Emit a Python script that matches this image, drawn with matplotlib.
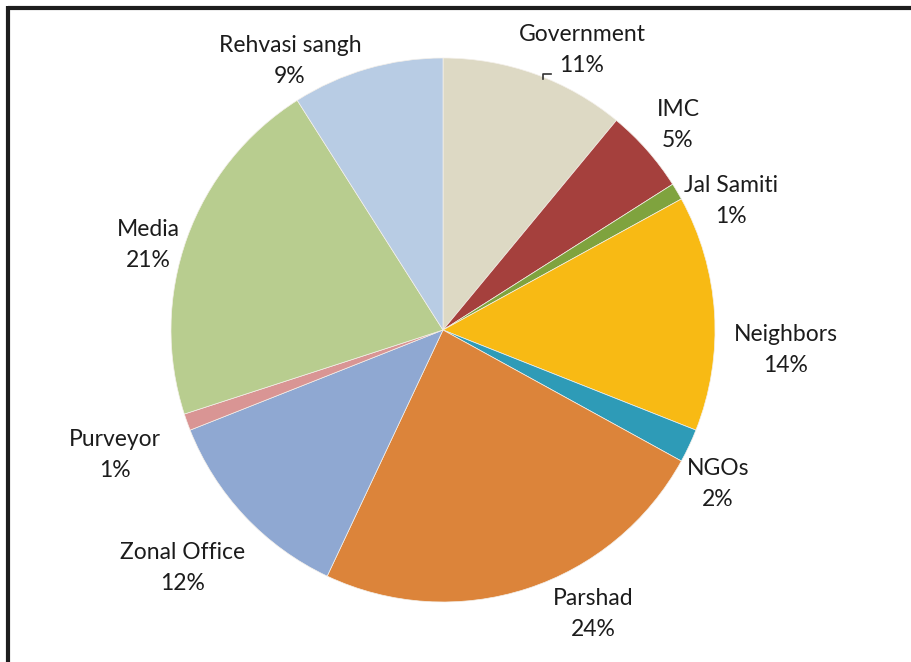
import matplotlib.pyplot as plt

# share of responses by source
sources = ["Government", "IMC", "Jal Samiti", "Neighbors", "NGOs",
           "Parshad", "Zonal Office", "Purveyor", "Media", "Rehvasi sangh"]
shares = [11, 5, 1, 14, 2, 24, 12, 1, 21, 9]
colors = ["#DDD9C4", "#A5403D", "#7FA33E", "#F8BA14", "#2E9BB7",
          "#DC843A", "#8FA8D2", "#D99594", "#B8CD8F", "#B8CCE4"]

# label anchors in pixel space (x from left, y from top)
label_xy = [(582, 50), (678, 125), (731, 201), (786, 350), (718, 484),
            (593, 614), (183, 568), (115, 455), (148, 245), (290, 61)]

W, H = 911, 662
fig = plt.figure(figsize=(W / 100, H / 100), dpi=100)
ax = fig.add_axes([0, 0, 1, 1])

cx, cy, r = 443, H - 330, 272
ax.pie(shares, colors=colors, startangle=90, counterclock=False,
       center=(cx, cy), radius=r, frame=True,
       wedgeprops=dict(edgecolor="#f4f0ea", linewidth=0.5))

ax.set_xlim(0, W)
ax.set_ylim(0, H)
ax.axis("off")

for name, val, (lx, ly) in zip(sources, shares, label_xy):
    ax.text(lx, H - ly, f"{name}\n{val}%", ha="center", va="center",
            fontsize=16.5, family="Lato", color="#1c1c1c", linespacing=1.55)

# small leader tick near the Government label
ax.plot([551, 543, 543], [H - 74, H - 74, H - 79], color="#333333", lw=1.2)

# frame lines along the top and left
ax.plot([7.5, W], [H - 7.5, H - 7.5], color="#1e1e1e", lw=3, clip_on=False,
        solid_capstyle="butt")
ax.plot([7.5, 7.5], [H - 6, 0], color="#1e1e1e", lw=3, clip_on=False,
        solid_capstyle="butt")

fig.savefig("out.png", dpi=100, facecolor="white")
